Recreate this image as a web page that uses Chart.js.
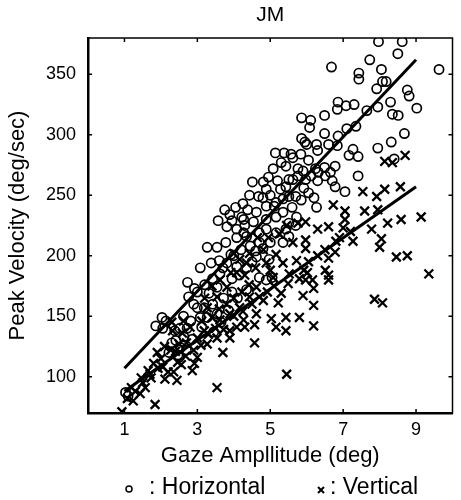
<!DOCTYPE html>
<html>
<head>
<meta charset="utf-8">
<script src="https://cdn.jsdelivr.net/npm/chart.js@4/dist/chart.umd.min.js"></script>
<style>
html,body{margin:0;padding:0;background:#fff;}
#wrap{width:461px;height:500px;position:relative;}
</style>
</head>
<body>
<div id="wrap"><canvas id="c" width="461" height="500"></canvas></div>
<script>
// ---- data ----
const chartTitle = "JM";
const xTitle = "Gaze Ampllitude (deg)";
const yTitle = "Peak Velocity (deg/sec)";
const seriesNames = ["Horizontal", "Vertical"];
const xTicks = [1, 3, 5, 7, 9];
const yTicks = [100, 150, 200, 250, 300, 350];

const horizX = [7.97,8.62,6.68,7.73,8.5,9.63,7.43,7.43,8.05,7.92,8.08,8.18,8.76,8.81,9.02,7.95,7.65,8.3,8.35,8.51,6.86,7.08,7.3,7.35,7.1,6.86,6.49,6.84,5.86,6.11,6.08,6.49,6.6,6.84,6.0,6.27,6.3,7.95,8.32,8.68,7.16,7.27,7.41,8.4,7.41,7.05,6.78,6.27,5.86,5.95,5.14,5.38,5.57,5.84,6.05,5.08,5.3,5.43,5.62,6.24,6.49,6.65,6.78,6.32,6.51,4.51,4.81,4.43,4.68,4.89,3.57,3.81,3.89,4.38,4.22,4.54,4.89,5.11,5.35,5.7,5.85,6.05,5.43,5.51,5.76,5.97,6.3,6.7,3.27,3.54,3.78,4.08,4.27,4.7,5.16,5.43,5.51,5.7,4.35,4.08,3.95,4.27,4.89,5.16,5.35,5.51,5.62,5.76,5.16,4.89,5.51,4.7,5.35,2.73,3.08,3.38,2.03,2.14,1.86,2.76,3.0,3.32,3.54,3.81,2.38,2.52,1.03,3.54,3.19,4.08,4.35,4.7,4.89,5.05,4.62,4.97,2.92,2.05,3.0,3.08,2.41,2.54,3.27,4.0,4.2,4.45,4.6,4.15,4.5,4.8,5.0,3.7,3.95,3.62,3.42,3.2,2.9,2.62,2.3,2.63,2.82,3.12,3.42,3.72,3.92,4.3,4.62,5.0,5.28,4.95,5.6,5.92,6.12,5.72,6.2,2.22,2.47,2.72,2.86,3.6,4.25,4.05,3.75,4.8,5.2,5.9,3.45,3.65,3.85,4.1,4.35,3.95,2.5,2.7,1.1];
const horizY = [377,377,356,362,367,354,351,346,354,338,344,344,337,332,322,323,320,327,317,316,327,324,325,307,305,299,316,321,314,312,306,301,292,291,292,292,287,289,294,301,283,288,282,280,266,253,257,240,297,294,285,285,284,284,279,272,277,274,281,272,273,269,274,269,266,261,261,250,249,255,229,224,234,238,232,228,230,241,247,249,246,252,257,263,266,263,262,262,207,207,211,215,219,219,219,222,227,225,216,222,229,230,241,244,236,249,263,272,232,222,216,211,211,178,190,194,149,146,142,166,170,169,174,194,138,140,87,152,157,191,190,182,180,182,199,197,173,140,157,149,130,124,149,200,205,208,204,184,195,206,211,190,181,185,181,176,160,150,128,133,146,141,160,165,201,225,236,250,255,265,240,256,266,232,248,120,118,140,131,196,243,240,238,248,262,270,137,145,155,165,172,170,116,122,84];

const vertX = [0.93,1.84,3.54,5.45,4.57,3.7,2.44,2.11,2.86,7.86,8.08,9.35,8.46,8.76,5.8,5.43,5.43,5.03,5.16,6.19,6.19,6.19,5.9,6.6,6.6,5.49,5.3,5.22,4.3,4.57,4.62,3.89,8.7,8.35,8.14,7.54,7.92,8.14,8.57,7.59,7.95,9.14,8.59,8.22,7.78,8.05,6.73,7.05,7.05,7.0,6.6,6.3,5.97,5.76,5.97,7.27,8.0,5.97,6.8,6.78,6.6,6.05,5.92,6.51,6.16,5.97,1.24,1.43,1.57,1.73,1.65,1.92,2.0,2.27,2.46,2.68,2.92,2.32,2.59,3.0,3.19,2.3,1.46,1.19,5.62,5.16,5.35,4.62,5.08,4.89,4.81,4.35,4.08,3.81,3.54,3.27,4.27,4.08,3.89,3.54,3.27,3.0,4.43,4.81,4.16,3.89,3.62,4.0,4.43,4.16,1.5,1.7,1.8,2.05,2.2,2.4,2.5,2.7,2.9,3.1,3.3,3.5,3.72,3.12,2.8,2.62,3.4,3.6,3.8,4.0,4.22,4.42,4.0,4.25,4.5,4.7,4.92,5.1,5.52,5.72,5.8,6.02,6.3,6.5,6.9,7.2,3.2,3.4,3.62,3.92,4.3,4.6,5.0,1.3,1.08,2.1,1.9,2.35,2.56,4.95,5.25,5.45,4.65];
const vertY = [71,77,91,102,128,120,97,98,105,164,161,185,199,200,149,149,138,148,141,142,159,173,167,180,184,177,169,161,141,143,152,138,283,277,278,253,249,255,257,237,238,232,230,227,222,214,242,237,230,223,224,222,228,227,213,212,207,206,212,203,198,195,188,188,180,180,80,86,91,99,105,107,115,122,112,117,111,138,136,132,138,145,99,91,211,201,194,174,182,194,205,194,186,174,166,157,147,141,132,132,127,116,166,163,157,152,147,202,202,197,95,102,111,108,104,121,127,128,122,126,135,140,139,146,141,146,149,156,160,165,170,176,150,154,160,166,170,175,185,196,181,186,200,205,215,220,165,175,180,186,184,190,188,88,82,125,120,104,110,215,218,225,215];

const horizFitX = [1, 9];
const horizFitY = [107, 362];
const vertFitX = [1, 9];
const vertFitY = [88, 257];

const xMin = 0, xMax = 10, yMin = 70, yMax = 380;

// ---- build ----
const zip = (xs, ys) => xs.map((x, i) => ({x: x, y: ys[i]}));
const FONT = "'Liberation Sans', Arial, Helvetica, sans-serif";

const frame = {
  id: 'frame',
  afterDatasetsDraw(chart) {
    const {ctx, chartArea: a, scales} = chart;
    ctx.save();
    ctx.strokeStyle = '#000';
    ctx.lineWidth = 1.5;
    ctx.strokeRect(a.left, a.top, a.right - a.left, a.bottom - a.top);
    const t = 4;
    ctx.beginPath();
    xTicks.forEach(v => {
      const px = scales.x.getPixelForValue(v);
      ctx.moveTo(px, a.bottom); ctx.lineTo(px, a.bottom - t);
      ctx.moveTo(px, a.top); ctx.lineTo(px, a.top + t);
    });
    yTicks.forEach(v => {
      const py = scales.y.getPixelForValue(v);
      ctx.moveTo(a.left, py); ctx.lineTo(a.left + t, py);
      ctx.moveTo(a.right, py); ctx.lineTo(a.right - t, py);
    });
    ctx.stroke();
    ctx.restore();
  },
  afterDraw(chart) {
    const ctx = chart.ctx;
    ctx.save();
    ctx.fillStyle = '#000';
    ctx.strokeStyle = '#000';
    ctx.font = "23px " + FONT;
    ctx.textBaseline = 'middle';
    ctx.textAlign = 'left';
    const y = 488;
    ctx.lineWidth = 1.5;
    ctx.beginPath(); ctx.arc(129, y + 1, 3, 0, Math.PI * 2); ctx.stroke();
    ctx.fillText(": " + seriesNames[0], 149, y);
    ctx.lineWidth = 2;
    ctx.beginPath();
    ctx.moveTo(318, y - 1); ctx.lineTo(324, y + 5);
    ctx.moveTo(324, y - 1); ctx.lineTo(318, y + 5);
    ctx.stroke();
    ctx.fillText(": " + seriesNames[1], 330, y);
    ctx.restore();
  }
};

new Chart(document.getElementById('c'), {
  type: 'scatter',
  data: {
    datasets: [
      {
        label: seriesNames[0],
        data: zip(horizX, horizY),
        pointStyle: 'circle',
        pointRadius: 4.6,
        pointBorderWidth: 1.7,
        borderColor: '#000',
        backgroundColor: 'rgba(0,0,0,0)',
        pointHoverRadius: 4.6
      },
      {
        label: seriesNames[1],
        data: zip(vertX, vertY),
        pointStyle: 'crossRot',
        pointRadius: 6.2,
        pointBorderWidth: 2.3,
        borderColor: '#000',
        backgroundColor: '#000',
        pointHoverRadius: 6.2
      },
      {
        type: 'line',
        label: 'fitH',
        data: zip(horizFitX, horizFitY),
        borderColor: '#000',
        borderWidth: 3,
        pointRadius: 0,
        showLine: true,
        fill: false
      },
      {
        type: 'line',
        label: 'fitV',
        data: zip(vertFitX, vertFitY),
        borderColor: '#000',
        borderWidth: 3,
        pointRadius: 0,
        showLine: true,
        fill: false
      }
    ]
  },
  options: {
    responsive: false,
    animation: false,
    devicePixelRatio: 1,
    layout: {padding: {left: 0, right: 4, top: 0, bottom: 27}},
    plugins: {
      legend: {display: false},
      tooltip: {enabled: false},
      title: {
        display: true,
        text: chartTitle,
        fullSize: false,
        color: '#000',
        font: {family: FONT, size: 21, weight: 'normal'},
        padding: {top: 2.4, bottom: 10.4}
      }
    },
    scales: {
      x: {
        type: 'linear',
        min: xMin, max: xMax,
        afterBuildTicks: s => { s.ticks = xTicks.map(v => ({value: v})); },
        afterFit: s => { s.height = 60; },
        grid: {display: false, drawTicks: false},
        border: {display: true, color: '#000', width: 2.5},
        ticks: {color: '#000', font: {family: FONT, size: 18}, padding: 6, maxRotation: 0},
        title: {display: true, text: xTitle, color: '#000', font: {family: FONT, size: 22}, padding: {top: 0, bottom: 4}}
      },
      y: {
        type: 'linear',
        min: yMin, max: yMax,
        afterBuildTicks: s => { s.ticks = yTicks.map(v => ({value: v})); },
        afterFit: s => { s.width = 88; },
        grid: {display: false, drawTicks: false},
        border: {display: true, color: '#000', width: 2.5},
        ticks: {color: '#000', font: {family: FONT, size: 18}, padding: 12},
        title: {display: true, text: yTitle, color: '#000', font: {family: FONT, size: 22}, padding: {top: 5, bottom: 0}}
      }
    }
  },
  plugins: [frame]
});
</script>
</body>
</html>
